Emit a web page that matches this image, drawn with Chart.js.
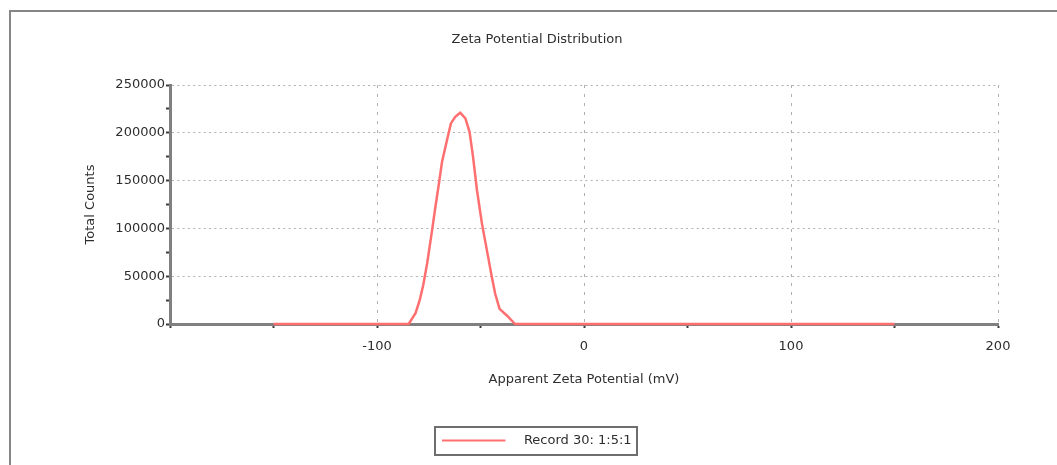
<!DOCTYPE html>
<html lang="en">
<head>
<meta charset="UTF-8">
<title>Zeta Potential Distribution</title>
<script src="https://cdn.jsdelivr.net/npm/chart.js"></script>
<style>
  html, body { margin: 0; padding: 0; background: #fff; overflow: hidden; }
  #moldura { position: absolute; left: 9px; top: 10px; width: 1100px; height: 500px;
             border-top: 2px solid #868686; border-left: 2px solid #868686; }
  #caixa { position: absolute; left: 0; top: 0; width: 1057px; height: 465px; }
</style>
</head>
<body>

<div id="moldura"></div>
<div id="caixa"><canvas id="myChart" width="1057" height="465"></canvas></div>

<script>
// valores
const zeta = [-150, -84.7, -81.4, -79.4, -77.7, -75.8, -73.4, -71.8, -70.2, -68.6, -66.2, -64.3, -62.2,
              -59.8, -57.3, -55.3, -53.6, -51.7, -49.3, -46.9, -44.5, -42.9, -40.8, -37.3, -33.3, 150];
const counts = [0, 0, 11300, 24600, 40300, 63100, 98000, 122400, 145100, 169600, 192300, 209800, 216700,
                221000, 215000, 201000, 174800, 139900, 105000, 77000, 49000, 31600, 15900, 8900, 0, 0];
const xLabels = [-100, 0, 100, 200];
const yLabels = [0, 50000, 100000, 150000, 200000, 250000];
const serie = 'Record 30: 1:5:1';

const fonte = { family: 'DejaVu Sans', size: 13, weight: 'normal' };
const corTexto = '#2e2e2e';
const corLinha = '#ff6f6f';
const corEixo = '#808080';
const corGrade = '#b0b0b0';

// simbolo da legenda: linha vermelha com um espaco antes do texto
const simbolo = document.createElement('canvas');
simbolo.width = 75;
simbolo.height = 4;
const sctx = simbolo.getContext('2d');
sctx.fillStyle = corLinha;
sctx.fillRect(0, 1, 63, 2);

// moldura em volta da legenda
const caixaLegenda = {
  id: 'caixaLegenda',
  afterDraw(chart) {
    const lg = chart.legend;
    if (!lg || !lg.legendHitBoxes || !lg.legendHitBoxes.length) return;
    const hb = lg.legendHitBoxes[0];
    const ctx = chart.ctx;
    const cy = hb.top + hb.height / 2;
    ctx.save();
    ctx.strokeStyle = '#6e6e6e';
    ctx.lineWidth = 2;
    ctx.strokeRect(Math.round(hb.left - 7), Math.round(cy - 14), Math.round(hb.width + 13), 28);
    ctx.restore();
  }
};

let pontos = zeta.map((x, i) => ({ x: x, y: counts[i] }));

let myChart = new Chart(document.getElementById('myChart'), {
  type: 'line',
  data: {
    datasets: [{
      label: serie,
      data: pontos,
      borderColor: corLinha,
      backgroundColor: corLinha,
      borderWidth: 2.5,
      pointRadius: 0,
      tension: 0,
      fill: false,
      clip: false
    }]
  },
  options: {
    responsive: false,
    animation: false,
    events: [],
    layout: { padding: { left: 17, right: 0, top: 0, bottom: 8 } },
    plugins: {
      title: {
        display: true,
        text: 'Zeta Potential Distribution',
        color: corTexto,
        font: fonte,
        padding: { top: 32, bottom: 37.4 }
      },
      legend: {
        position: 'bottom',
        labels: {
          usePointStyle: true,
          pointStyle: simbolo,
          pointStyleWidth: 75,
          color: corTexto,
          font: fonte,
          padding: 15
        }
      },
      tooltip: { enabled: false }
    },
    scales: {
      x: {
        type: 'linear',
        min: -200,
        max: 200,
        afterFit: s => { s.height = 95; },
        ticks: {
          stepSize: 50,
          autoSkip: false,
          maxRotation: 0,
          padding: 11,
          color: corTexto,
          font: fonte,
          callback: v => xLabels.includes(v) ? String(v) : ''
        },
        grid: {
          color: c => (c.tick && xLabels.includes(c.tick.value)) ? corGrade : 'rgba(0,0,0,0)',
          lineWidth: 1,
          tickLength: 4,
          tickWidth: 2,
          tickColor: '#3c3c3c',
          tickBorderDash: []
        },
        border: { display: true, color: corEixo, width: 3, dash: [3, 6] },
        title: {
          display: true,
          text: 'Apparent Zeta Potential (mV)',
          color: corTexto,
          font: fonte,
          padding: { top: 0, bottom: 31.2 }
        }
      },
      y: {
        min: 0,
        max: 250000,
        afterFit: s => { s.width = 153; },
        ticks: {
          stepSize: 25000,
          autoSkip: false,
          padding: 1,
          color: corTexto,
          font: fonte,
          callback: v => yLabels.includes(v) ? String(v) : ''
        },
        grid: {
          color: c => (c.tick && c.tick.value !== 0 && yLabels.includes(c.tick.value)) ? corGrade : 'rgba(0,0,0,0)',
          lineWidth: 1,
          tickLength: 4,
          tickWidth: 2,
          tickColor: '#3c3c3c',
          tickBorderDash: []
        },
        border: { display: true, color: corEixo, width: 3, dash: [2, 3.3] },
        title: {
          display: true,
          text: 'Total Counts',
          color: corTexto,
          font: fonte,
          padding: { top: 66, bottom: 0 }
        }
      },
      // eixo vazio so para reservar a margem da direita
      espaco: {
        type: 'linear',
        position: 'right',
        display: true,
        afterFit: s => { s.width = 59; },
        ticks: { display: false },
        grid: { display: false },
        border: { display: false }
      }
    }
  },
  plugins: [caixaLegenda]
});
</script>
</body>
</html>
